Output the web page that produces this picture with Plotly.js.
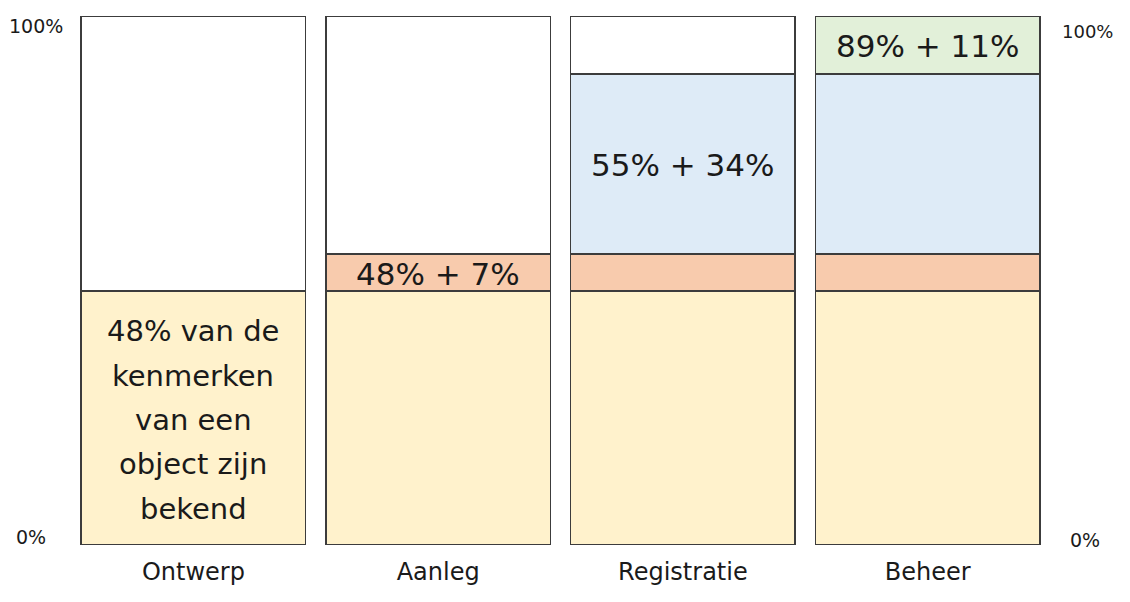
<!DOCTYPE html>
<html>
<head>
<meta charset="utf-8">
<script src="https://cdn.plot.ly/plotly-3.0.1.min.js"></script>
<style>html,body{margin:0;padding:0;background:#fff;}#chart{width:1130px;height:602px;}</style>
</head>
<body>
<div id="chart"></div>
<script>
const categories = ['Ontwerp', 'Aanleg', 'Registratie', 'Beheer'];
const ontwerpShare = [48, 48, 48, 48];
const aanlegShare = [0, 7, 7, 7];
const registratieShare = [0, 0, 34, 34];
const beheerShare = [0, 0, 0, 11];
const unknownShare = [52, 45, 11, 0];
const ontwerpLines = ['48% van de', 'kenmerken', 'van een', 'object zijn', 'bekend'];
const stageLabels = ['', '48% + 7%', '55% + 34%', '89% + 11%'];
const axisLabels = ['0%', '100%'];

const FONT = 'DejaVu Sans, sans-serif';
const TXT = '#1a1a1a';
const lineStyle = {color: '#3c3c3c', width: 1.5};

function bar(y, color) {
  return {type: 'bar', x: categories, y: y, marker: {color: color, line: lineStyle},
          hoverinfo: 'skip', showlegend: false};
}
const traces = [
  bar(ontwerpShare, '#FFF2CC'),
  bar(aanlegShare, '#F8CBAD'),
  bar(registratieShare, '#DEEBF7'),
  bar(beheerShare, '#E2F0D9'),
  bar(unknownShare, '#FFFFFF')
];

const annotations = [];
const mid = ontwerpShare[0] / 2;
ontwerpLines.forEach((t, i) => {
  annotations.push({x: categories[0], y: mid, xref: 'x', yref: 'y', text: t, showarrow: false,
    yanchor: 'middle', yshift: (2 - i) * 44.3 - 2, font: {family: FONT, size: 29, color: TXT}});
});
const layers = [ontwerpShare, aanlegShare, registratieShare, beheerShare];
for (let c = 1; c < categories.length; c++) {
  let base = 0;
  for (let l = 0; l < c; l++) base += layers[l][c];
  const h = layers[c][c];
  annotations.push({x: categories[c], y: base + h / 2, xref: 'x', yref: 'y', text: stageLabels[c],
    showarrow: false, yanchor: 'middle', yshift: -1, font: {family: FONT, size: 31, color: TXT}});
}
annotations.push({xref: 'paper', yref: 'paper', x: -0.0358, y: 0.981, text: axisLabels[1], showarrow: false, xanchor: 'center', yanchor: 'middle', font: {family: FONT, size: 19, color: TXT}});
annotations.push({xref: 'paper', yref: 'paper', x: -0.0409, y: 0.0151, text: axisLabels[0], showarrow: false, xanchor: 'center', yanchor: 'middle', font: {family: FONT, size: 19, color: TXT}});
annotations.push({xref: 'paper', yref: 'paper', x: 1.0388, y: 0.9716, text: axisLabels[1], showarrow: false, xanchor: 'center', yanchor: 'middle', font: {family: FONT, size: 18, color: TXT}});
annotations.push({xref: 'paper', yref: 'paper', x: 1.0358, y: 0.0094, text: axisLabels[0], showarrow: false, xanchor: 'center', yanchor: 'middle', font: {family: FONT, size: 19, color: TXT}});

const layout = {
  width: 1130, height: 602,
  margin: {l: 71, r: 80, t: 16, b: 57},
  paper_bgcolor: '#ffffff', plot_bgcolor: '#ffffff',
  barmode: 'stack', bargap: 0.082,
  xaxis: {type: 'category', showgrid: false, zeroline: false, showline: false, ticks: '',
          ticklabelstandoff: 10, tickfont: {family: FONT, size: 24, color: TXT}},
  yaxis: {range: [0, 100], showgrid: false, zeroline: false, showline: false, showticklabels: false, ticks: ''},
  annotations: annotations
};
Plotly.newPlot('chart', traces, layout, {displayModeBar: false, staticPlot: true});
</script>
</body>
</html>
